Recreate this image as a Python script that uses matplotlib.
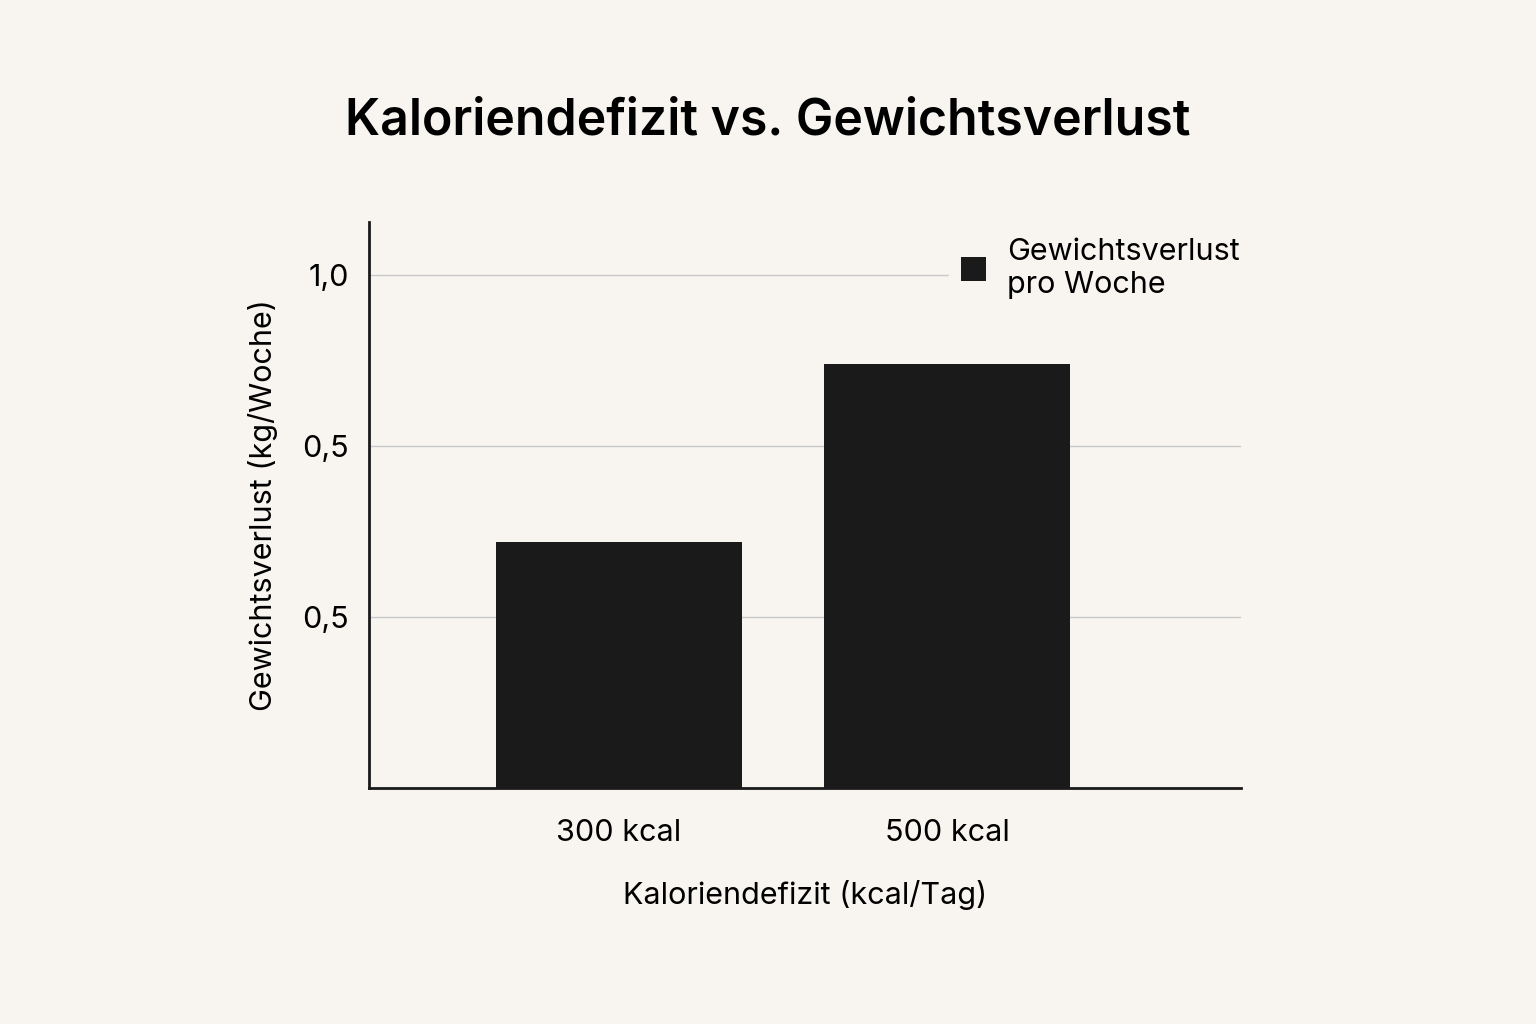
import matplotlib
matplotlib.use("Agg")
import matplotlib.pyplot as plt

# Data (tick labels reproduced as in the source chart)
categories = ["300 kcal", "500 kcal"]
weight_loss = [0.36, 0.62]
tick_values = [0.25, 0.5, 0.75]
tick_labels = ["0,5", "0,5", "1,0"]

bg = "#f8f5f0"
bar_color = "#1a1a1a"

plt.rcParams["font.family"] = ["Inter", "DejaVu Sans"]

fig = plt.figure(figsize=(15.36, 10.24), dpi=100, facecolor=bg)
ax = fig.add_axes([0.240, 0.230, 0.568, 0.553], facecolor=bg)

x = list(range(len(categories)))
ax.bar(x, weight_loss, width=0.75, color=bar_color, label="Gewichtsverlust\npro Woche", zorder=3)

ax.set_xlim(-0.763, 1.895)
ax.set_ylim(0, 0.827)
ax.set_xticks(x)
ax.set_xticklabels(categories, fontsize=22)
ax.set_yticks(tick_values)
ax.set_yticklabels(tick_labels, fontsize=22)
ax.tick_params(length=0, pad=14)
ax.tick_params(axis="x", pad=22)
ax.grid(axis="y", color="#c8c8c8", linewidth=1, zorder=1)

for side in ["top", "right"]:
    ax.spines[side].set_visible(False)
for side in ["left", "bottom"]:
    ax.spines[side].set_linewidth(2)
    ax.spines[side].set_color("#1a1a1a")

ax.set_xlabel("Kaloriendefizit (kcal/Tag)", fontsize=22, labelpad=24)
ax.set_ylabel("Gewichtsverlust (kg/Woche)", fontsize=22, labelpad=18)

leg = ax.legend(loc="upper right", bbox_to_anchor=(1.03, 1.02), fontsize=22, frameon=True,
                handlelength=0.8, handleheight=0.8, handletextpad=0.7, borderpad=0.4)
leg.get_frame().set_facecolor(bg)
leg.get_frame().set_edgecolor(bg)
leg.get_frame().set_alpha(1)
leg.set_zorder(5)

fig.suptitle("Kaloriendefizit vs. Gewichtsverlust", fontsize=36, fontweight="semibold", y=0.905)

fig.savefig("out.png", dpi=100, facecolor=bg)
